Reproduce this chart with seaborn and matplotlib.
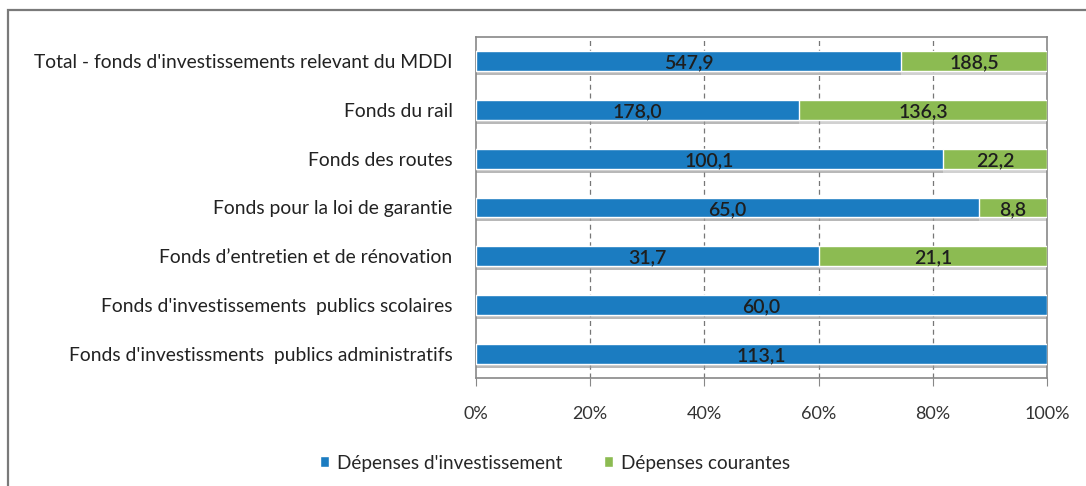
import pandas as pd
import matplotlib.pyplot as plt
import seaborn as sns
from matplotlib.patches import Rectangle

funds = ["Total - fonds d'investissements relevant du MDDI",
         "Fonds du rail",
         "Fonds des routes",
         "Fonds pour la loi de garantie",
         "Fonds d\u2019entretien et de rénovation",
         "Fonds d'investissements  publics scolaires",
         "Fonds d'investissments  publics administratifs"]
invest = [547.9, 178.0, 100.1, 65.0, 31.7, 60.0, 113.1]
courantes = [188.5, 136.3, 22.2, 8.8, 21.1, 0.0, 0.0]

series_names = ["Dépenses d'investissement", "Dépenses courantes"]
blue = '#1b7cc1'
green = '#8cbb52'

df = pd.DataFrame({'fonds': funds, 'invest': invest, 'courantes': courantes})
df['total'] = df['invest'] + df['courantes']
df['pct_inv'] = df['invest'] / df['total'] * 100
df['pct_all'] = 100.0

sns.set_style('white')
plt.rcParams['font.family'] = ['Lato', 'DejaVu Sans']

fig = plt.figure(figsize=(10.86, 4.86), dpi=100)
ax = fig.add_axes([0.4383, 0.2222, 0.5258, 0.7017])

# outer frame of the original figure
fig.patches.append(Rectangle((8 / 1086, -0.1), 1.2, 1 - 10 / 486 + 0.1,
                             transform=fig.transFigure, fill=False,
                             edgecolor='#7a7a7a', linewidth=1.6, zorder=0))

sns.barplot(data=df, y='fonds', x='pct_all', orient='h', color=green,
            saturation=1, width=0.41, ax=ax, label=series_names[1], zorder=3)
sns.barplot(data=df, y='fonds', x='pct_inv', orient='h', color=blue,
            saturation=1, width=0.41, ax=ax, label=series_names[0], zorder=3)

# soft shadow below each bar
for p in list(ax.patches):
    x, y = p.get_xy()
    ax.add_patch(Rectangle((x, y + 0.08), p.get_width(), p.get_height(),
                           facecolor='#9a9a9a', edgecolor='none', alpha=0.45, zorder=2))

# value labels centred in each segment
for i in range(len(funds)):
    ax.text(df['pct_inv'][i] / 2, i + 0.04, f"{invest[i]:.1f}".replace('.', ','),
            ha='center', va='center', fontsize=14, fontweight='semibold',
            color='#1e1e1e', zorder=5)
    if courantes[i] > 0:
        ax.text(df['pct_inv'][i] + (100 - df['pct_inv'][i]) / 2, i + 0.04,
                f"{courantes[i]:.1f}".replace('.', ','),
                ha='center', va='center', fontsize=14, fontweight='semibold',
                color='#1e1e1e', zorder=5)

ax.set_xlim(0, 100)
ax.set_ylim(6.5, -0.5)
ax.set_xticks([0, 20, 40, 60, 80, 100])
ax.set_xticklabels(['0%', '20%', '40%', '60%', '80%', '100%'], fontsize=13, color='#333333')
ax.set_yticks([i + 0.5 for i in range(-1, 7)], minor=True)
ax.tick_params(axis='y', which='major', length=0, pad=17, labelsize=13.9, labelcolor='#222222')
ax.tick_params(axis='y', which='minor', length=6, color='#888888', direction='out')
ax.tick_params(axis='x', length=6, color='#888888', direction='out', pad=14, bottom=True)
ax.set_xlabel('')
ax.set_ylabel('')
for x in [20, 40, 60, 80]:
    ax.axvline(x, color='#777777', linestyle=(0, (4, 3)), linewidth=0.9, zorder=1)
for s in ax.spines.values():
    s.set_color('#888888')
    s.set_linewidth(1.2)

handles, labels = ax.get_legend_handles_labels()
order = [labels.index(n) for n in series_names]
ax.legend([handles[k] for k in order], series_names, loc='center',
          bbox_to_anchor=(555 / 1086, 1 - 463 / 486), bbox_transform=fig.transFigure,
          ncol=2, frameon=False, fontsize=13.6, handlelength=0.5, handleheight=0.5,
          handletextpad=0.4, columnspacing=2.2)

plt.savefig('out.png', dpi=100)
